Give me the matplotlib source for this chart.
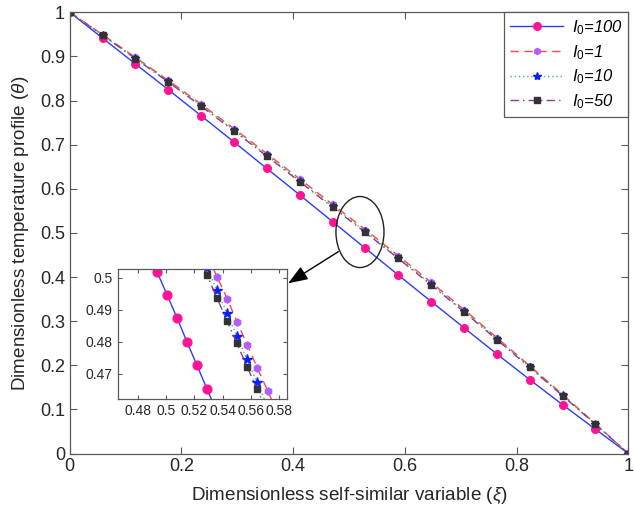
import numpy as np
import matplotlib.pyplot as plt
from matplotlib.patches import Ellipse
from matplotlib.ticker import FuncFormatter

plt.rcParams['font.family'] = ['Liberation Sans', 'DejaVu Sans']
plt.rcParams['mathtext.fontset'] = 'custom'
plt.rcParams['mathtext.rm'] = 'Liberation Sans'
plt.rcParams['mathtext.it'] = 'Liberation Sans:italic'

# self-similar variable at the marker positions (k/17)
xi = [0.0, 0.0588, 0.1176, 0.1765, 0.2353, 0.2941, 0.3529, 0.4118, 0.4706,
      0.5294, 0.5882, 0.6471, 0.7059, 0.7647, 0.8235, 0.8824, 0.9412, 1.0]

theta_100 = [1.000, 0.9415, 0.8830, 0.8245, 0.7655, 0.7060, 0.6460, 0.5860, 0.5255,
             0.4650, 0.4045, 0.3445, 0.2850, 0.2255, 0.1675, 0.1105, 0.0550, 0.0]
theta_1 = [1.000, 0.9494, 0.8977, 0.8457, 0.7916, 0.7363, 0.6798, 0.6222, 0.5644,
           0.5074, 0.4482, 0.3878, 0.3263, 0.2626, 0.1987, 0.1337, 0.0674, 0.0]
theta_10 = [1.000, 0.9485, 0.8959, 0.8433, 0.7886, 0.7328, 0.6760, 0.6181, 0.5602,
            0.5032, 0.4441, 0.3840, 0.3228, 0.2596, 0.1963, 0.1319, 0.0665, 0.0]
theta_50 = [1.000, 0.948, 0.895, 0.842, 0.787, 0.731, 0.674, 0.616, 0.558,
            0.501, 0.442, 0.382, 0.321, 0.258, 0.195, 0.131, 0.066, 0.0]

# zoomed detail around xi ~ 0.53
zxi_100 = [0.4865, 0.4936, 0.5009, 0.5080, 0.5149, 0.5219, 0.5290, 0.5361]
zth_100 = [0.5092, 0.5019, 0.4945, 0.4873, 0.4799, 0.4727, 0.4653, 0.4580]
zxi_1 = [0.5290, 0.5361, 0.5434, 0.5502, 0.5575, 0.5646, 0.5719, 0.5790]
zth_1 = [0.5073, 0.5002, 0.4933, 0.4862, 0.4790, 0.4718, 0.4647, 0.4575]
zxi_10 = [0.5290, 0.5361, 0.5431, 0.5500, 0.5571, 0.5643, 0.5714]
zth_10 = [0.5031, 0.4960, 0.4889, 0.4819, 0.4746, 0.4674, 0.4603]
zxi_50 = [0.5219, 0.5290, 0.5359, 0.5431, 0.5500, 0.5573, 0.5643, 0.5714]
zth_50 = [0.5078, 0.5008, 0.4938, 0.4866, 0.4796, 0.4723, 0.4653, 0.4581]

labels = [r'$\mathit{I_0}$=100', r'$\mathit{I_0}$=1', r'$\mathit{I_0}$=10', r'$\mathit{I_0}$=50']

styles = [
    dict(color='#2B3BFF', ls='-', marker='o', mfc='#FF1493', mec='#FF1493', ms=5.5),
    dict(color='#FF4545', ls=(0, (6, 4)), marker='h', mfc='#B45CFF', mec='#B45CFF', ms=4.5),
    dict(color='#3CC060', ls=(0, (1, 2)), marker='*', mfc='#0A1EFF', mec='#0A1EFF', ms=6),
    dict(color='#8A3A9A', ls=(0, (6, 3, 1, 3)), marker='s', mfc='#333333', mec='#333333', ms=3.8),
]

axis_col = '#5a5a5a'
text_col = '#262626'


def fmt(v, pos):
    return '%g' % round(v, 4)


def style_axes(ax, size, length):
    for s in ax.spines.values():
        s.set_color(axis_col)
        s.set_linewidth(0.9)
    ax.tick_params(direction='in', which='both', top=True, right=True,
                   colors=axis_col, labelcolor=text_col, labelsize=size, length=length)
    ax.xaxis.set_major_formatter(FuncFormatter(fmt))
    ax.yaxis.set_major_formatter(FuncFormatter(fmt))


fig = plt.figure(figsize=(6.34, 5.17), dpi=100)
ax = fig.add_axes([0.110, 0.1228, 0.881, 0.8534])

series = [theta_100, theta_1, theta_10, theta_50]
for th, st, lab in zip(series, styles, labels):
    ax.plot(xi, th, lw=1.0, label=lab, **st)

ax.set_xlim(0, 1)
ax.set_ylim(0, 1)
ax.set_xticks(np.arange(0, 1.01, 0.2))
ax.set_yticks(np.arange(0, 1.01, 0.1))
style_axes(ax, 13, 5)
ax.set_xlabel(r'Dimensionless self-similar variable ($\xi$)', fontsize=13.6, color=text_col, labelpad=7)
ax.set_ylabel(r'Dimensionless temperature profile ($\theta$)', fontsize=13.6, color=text_col, labelpad=6)

leg = ax.legend(loc='upper right', borderaxespad=0, fancybox=False, framealpha=1,
                edgecolor=axis_col, prop={'size': 12, 'style': 'italic'},
                handlelength=3.2, handletextpad=0.5, labelspacing=0.36, borderpad=0.35)
leg.get_frame().set_linewidth(0.9)

# highlight the zoomed region
ax.add_patch(Ellipse((0.5196, 0.502), 0.086, 0.161, fill=False, ec='#222222', lw=1.0, zorder=5))
ax.annotate('', xy=(0.391, 0.3858), xytext=(0.4808, 0.4574),
            arrowprops=dict(arrowstyle='-|>,head_length=1.2,head_width=0.45',
                            color='black', lw=1.0, shrinkA=0, shrinkB=0), zorder=6)

ins = fig.add_axes([0.1856, 0.2282, 0.2676, 0.2509])
ins.set_facecolor('white')
zoom = [(zxi_100, zth_100), (zxi_1, zth_1), (zxi_10, zth_10), (zxi_50, zth_50)]
for (zx, zy), st in zip(zoom, styles):
    st2 = dict(st)
    st2['ms'] = st['ms'] * 1.15
    ins.plot(zx, zy, lw=1.0, **st2)
ins.set_xlim(0.4659, 0.5857)
ins.set_ylim(0.4622, 0.5026)
ins.set_xticks([0.48, 0.50, 0.52, 0.54, 0.56, 0.58])
ins.set_yticks([0.47, 0.48, 0.49, 0.50])
style_axes(ins, 10, 3)

fig.savefig('out.png', dpi=100, facecolor='white')
